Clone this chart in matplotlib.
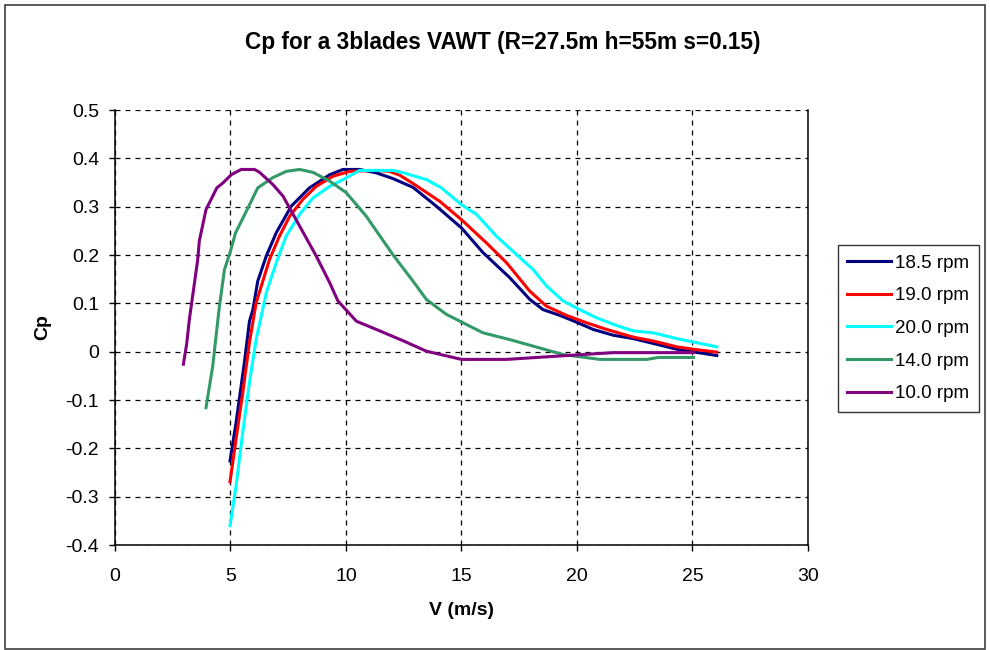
import numpy as np
import matplotlib.pyplot as plt
from matplotlib.patches import Rectangle

plt.rcParams['font.family'] = ['Liberation Sans', 'DejaVu Sans']

# 18.5 rpm
v_185 = [4.98, 5.24, 5.6, 5.82, 5.97, 6.18, 6.55, 6.98, 7.63, 8.42, 9.29, 9.87,
         10.59, 11.31, 12.04, 12.9, 13.91, 15.0, 15.93, 17.09, 17.96, 18.53,
         19.26, 19.98, 20.7, 21.57, 22.44, 23.3, 24.32, 26.05]
cp_185 = [-0.226, -0.147, -0.023, 0.063, 0.087, 0.146, 0.198, 0.246, 0.301, 0.339,
          0.366, 0.377, 0.377, 0.37, 0.358, 0.34, 0.301, 0.256, 0.205, 0.153,
          0.108, 0.087, 0.075, 0.061, 0.046, 0.034, 0.027, 0.017, 0.005, -0.008]

# 19.0 rpm
v_190 = [4.98, 5.24, 5.53, 5.82, 6.11, 6.69, 7.12, 7.56, 8.13, 8.71, 9.44, 10.16,
         11.31, 11.89, 12.33, 12.9, 14.06, 15.0, 16.08, 16.95, 17.96, 18.68,
         19.55, 20.4, 21.28, 22.44, 23.3, 24.32, 25.04, 26.05]
cp_190 = [-0.269, -0.181, -0.085, 0.019, 0.101, 0.191, 0.239, 0.28, 0.315, 0.342,
          0.363, 0.373, 0.375, 0.373, 0.365, 0.348, 0.311, 0.273, 0.225, 0.184,
          0.125, 0.094, 0.075, 0.06, 0.046, 0.03, 0.022, 0.01, 0.005, -0.001]

# 20.0 rpm
v_200 = [4.98, 5.24, 5.53, 5.82, 6.11, 6.55, 6.98, 7.41, 7.99, 8.57, 9.29, 9.87,
         10.59, 12.04, 12.5, 13.48, 14.13, 15.0, 15.65, 16.51, 17.38, 18.1,
         18.68, 19.4, 20.12, 20.85, 21.72, 22.44, 23.3, 24.32, 25.04, 26.05]
cp_200 = [-0.36, -0.278, -0.167, -0.064, 0.025, 0.122, 0.184, 0.239, 0.284, 0.318,
          0.342, 0.356, 0.375, 0.375, 0.37, 0.356, 0.339, 0.304, 0.284, 0.239,
          0.201, 0.17, 0.136, 0.105, 0.087, 0.07, 0.054, 0.043, 0.039, 0.027,
          0.02, 0.01]

# 14.0 rpm
v_140 = [3.94, 4.23, 4.52, 4.74, 4.98, 5.22, 5.68, 6.18, 6.83, 7.41, 7.99, 8.57,
         9.29, 10.01, 10.88, 12.04, 12.9, 13.48, 14.35, 15.93, 17.09, 19.4,
         20.99, 23.02, 23.52, 25.04]
cp_140 = [-0.116, -0.03, 0.094, 0.17, 0.205, 0.246, 0.29, 0.339, 0.36, 0.373,
          0.377, 0.371, 0.353, 0.329, 0.28, 0.2, 0.146, 0.108, 0.077, 0.039,
          0.025, -0.006, -0.016, -0.016, -0.012, -0.012]

# 10.0 rpm
v_100 = [2.96, 3.1, 3.22, 3.58, 3.65, 3.94, 4.41, 4.67, 5.03, 5.46, 6.04, 6.26,
         6.83, 7.27, 7.84, 8.71, 9.29, 9.65, 10.45, 11.31, 12.5, 13.48, 15.0,
         16.95, 19.55, 21.57, 25.04]
cp_100 = [-0.026, 0.015, 0.067, 0.19, 0.229, 0.294, 0.339, 0.349, 0.366, 0.377,
          0.377, 0.371, 0.346, 0.322, 0.273, 0.198, 0.143, 0.105, 0.063, 0.046,
          0.022, 0.001, -0.016, -0.016, -0.008, -0.002, -0.002]

series = [
    (v_185, cp_185, '#000080', '18.5 rpm'),
    (v_190, cp_190, '#ff0000', '19.0 rpm'),
    (v_200, cp_200, '#00ffff', '20.0 rpm'),
    (v_140, cp_140, '#339966', '14.0 rpm'),
    (v_100, cp_100, '#800080', '10.0 rpm'),
]

fig = plt.figure(figsize=(9.9, 6.5), dpi=100)
# chart border
fig.patches.append(Rectangle((5 / 990, 1 / 650), 980 / 990, 644 / 650,
                             transform=fig.transFigure, fill=False,
                             edgecolor='#404040', lw=1.2))

ax = fig.add_axes([115 / 990, 1 - 545 / 650, 693 / 990, 435 / 650])
for v, cp, c, lab in series:
    ax.plot(v, cp, color=c, lw=2.2, label=lab)

ax.set_xlim(0, 30)
ax.set_ylim(-0.4, 0.5)
ax.set_xticks(np.arange(0, 31, 5))
ax.set_yticks(np.arange(-0.4, 0.51, 0.1))
ax.set_yticklabels(['-0.4', '-0.3', '-0.2', '-0.1', '0', '0.1', '0.2', '0.3', '0.4', '0.5'])
ax.tick_params(labelsize=14, length=4.5, width=1, direction='out')
ax.tick_params(axis='y', pad=7)
ax.tick_params(axis='x', pad=12)
ax.grid(True, color='black', ls=(0, (4, 4)), lw=0.9)
ax.set_axisbelow(True)
ax.spines['top'].set_visible(False)
for s in ['left', 'bottom', 'right']:
    ax.spines[s].set_linewidth(1.1)

ax.set_xlabel('V (m/s)', fontsize=14, fontweight='bold', labelpad=12)
ax.set_ylabel('Cp', fontsize=14, fontweight='bold', labelpad=10)
fig.text(0.5075, 1 - 43 / 650, 'Cp for a 3blades VAWT (R=27.5m h=55m s=0.15)',
         ha='center', va='center', fontsize=16.3, fontweight='bold')

leg = ax.legend(loc='upper left', bbox_to_anchor=(838 / 990, 1 - 245 / 650),
                bbox_transform=fig.transFigure, fontsize=13.5, frameon=True,
                fancybox=False, edgecolor='black', handlelength=2.3,
                labelspacing=0.83, borderpad=0.5, handletextpad=0.25,
                borderaxespad=0)
leg.get_frame().set_linewidth(1.0)

fig.savefig('out.png', dpi=100)
